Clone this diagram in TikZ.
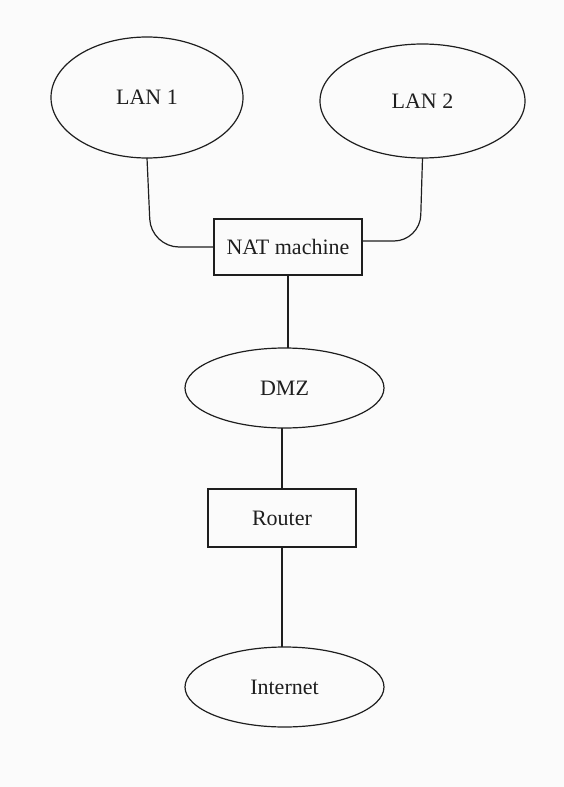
\documentclass[tikz,border=0pt]{standalone}
\usepackage{fontspec}
\setmainfont{Liberation Serif}
\usetikzlibrary{shapes.geometric}
\definecolor{bgc}{RGB}{251,251,251}
\definecolor{inkc}{RGB}{30,30,30}
\begin{document}
\begin{tikzpicture}[x=1pt,y=-1pt,
  net/.style={ellipse,draw=inkc,line width=1.2pt,inner sep=0pt,outer sep=0pt,
    font=\fontsize{22}{26}\selectfont,text=inkc},
  dev/.style={rectangle,draw=inkc,line width=1.2pt,inner sep=0pt,outer sep=0pt,
    font=\fontsize{22}{26}\selectfont,text=inkc},
  link/.style={draw=inkc,line width=1.2pt}]
\fill[bgc] (0,0) rectangle (564,787);
\useasboundingbox (0,0) rectangle (564,787);
\node[net,minimum width=192pt,minimum height=121pt] (lan1) at (147,97.5) {LAN 1};
\node[net,minimum width=205pt,minimum height=114pt] (lan2) at (422.5,101) {LAN 2};
\node[dev,minimum width=148pt,minimum height=56pt] (nat) at (288,247) {NAT machine};
\node[net,minimum width=199pt,minimum height=80pt] (dmz) at (284.5,388) {DMZ};
\node[dev,minimum width=148pt,minimum height=58pt] (router) at (282,518) {Router};
\node[net,minimum width=199pt,minimum height=80pt] (inet) at (284.5,687) {Internet};
\coordinate (c1) at (151,247);
\coordinate (c2) at (420,241);
\draw[link,rounded corners=28pt] (lan1.south) -- (c1) -- (nat.west);
\draw[link,rounded corners=26pt] (lan2.south) -- (c2) -- (c2 -| nat.east);
\draw[link] (nat.south) -- (nat.south |- dmz.north);
\draw[link] (router.north |- dmz.south) -- (router.north);
\draw[link] (router.south) -- (router.south |- inet.north);
\end{tikzpicture}
\end{document}
